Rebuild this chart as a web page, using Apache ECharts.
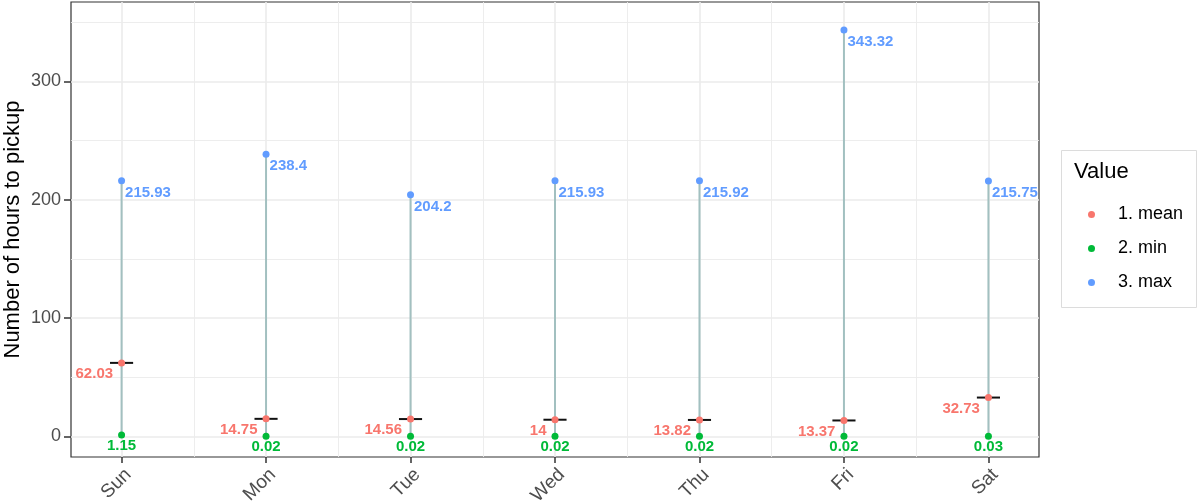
<!DOCTYPE html>
<html>
<head>
<meta charset="utf-8">
<script src="https://cdn.jsdelivr.net/npm/echarts@6/dist/echarts.min.js"></script>
<style>
html,body{margin:0;padding:0;background:#fff;}
#main{width:1200px;height:503px;}
</style>
</head>
<body>
<div id="main"></div>
<script>
// data
var days = ['Sun','Mon','Tue','Wed','Thu','Fri','Sat'];
var meanVals = [62.03, 14.75, 14.56, 14, 13.82, 13.37, 32.73];
var minVals = [1.15, 0.02, 0.02, 0.02, 0.02, 0.02, 0.03];
var maxVals = [215.93, 238.4, 204.2, 215.93, 215.92, 343.32, 215.75];
var yTicks = [0, 100, 200, 300];
var yMinor = [50, 150, 250, 350];

var FONT = '"Liberation Sans", Arial, Helvetica, sans-serif';
var RED = '#F8766D', GREEN = '#00BA38', BLUE = '#619CFF';

var chart = echarts.init(document.getElementById('main'));

function pts(vals){
    return vals.map(function(v, i){ return [i, v]; });
}

// grid lines (major at days, minor between them)
var gridLines = [];
yTicks.forEach(function(v){ gridLines.push({yAxis: v, lineStyle:{width:1.6}}); });
yMinor.forEach(function(v){ gridLines.push({yAxis: v, lineStyle:{width:0.9}}); });
days.forEach(function(d, i){
    gridLines.push({xAxis: i, lineStyle:{width:1.6}});
    if(i < days.length - 1) gridLines.push({xAxis: i + 0.5, lineStyle:{width:0.9}});
});

var segData = days.map(function(d, i){ return [i, minVals[i], maxVals[i]]; });

function labelOf(color, pos, offset, dist){
    return {
        show: true, position: pos, offset: offset, distance: dist,
        color: color, fontFamily: FONT, fontWeight: 'bold', fontSize: 15,
        formatter: function(p){ return String(p.value[1]); }
    };
}

chart.setOption({
    animation: false,
    grid: {left: 71, right: 161, top: 2, bottom: 46, show: true, borderColor: '#333', borderWidth: 1.2,
           backgroundColor: '#fff', containLabel: false, outerBoundsMode: 'none'},
    xAxis: {
        type: 'value', min: -0.35, max: 6.35,
        axisLine: {show: false, onZero: false},
        splitLine: {show: false},
        axisTick: {show: true, length: 6, customValues: [0,1,2,3,4,5,6], lineStyle: {color: '#333', width: 1.5}},
        axisLabel: {
            customValues: [0,1,2,3,4,5,6], rotate: 45, margin: 8, verticalAlign: 'top',
            color: '#4D4D4D', fontSize: 19, fontFamily: FONT,
            formatter: function(v){ return days[Math.round(v)]; }
        }
    },
    yAxis: {
        type: 'value', min: -17.5, max: 367,
        name: 'Number of hours to pickup', nameLocation: 'middle', nameGap: 47, nameMoveOverlap: false,
        nameTextStyle: {color: '#000', fontSize: 22, fontFamily: FONT},
        axisLine: {show: false, onZero: false},
        splitLine: {show: false},
        axisTick: {show: true, length: 7, customValues: yTicks, lineStyle: {color: '#333', width: 1.5}},
        axisLabel: {customValues: yTicks, margin: 10, color: '#4D4D4D', fontSize: 18, fontFamily: FONT}
    },
    legend: {
        orient: 'vertical', left: 1083, top: 200,
        data: ['1. mean', '2. min', '3. max'],
        icon: 'circle', itemWidth: 7, itemHeight: 7, itemGap: 15,
        textStyle: {color: '#000', fontSize: 18, fontFamily: FONT, lineHeight: 19, padding: [0,0,0,18]},
        selectedMode: false
    },
    graphic: [
        {type: 'rect', left: 1061, top: 150, z: -1, shape: {width: 135, height: 157},
         style: {fill: '#fff', stroke: '#dcdcdc', lineWidth: 1}},
        {type: 'text', left: 1074, top: 161, style: {text: 'Value', fill: '#000', fontSize: 22, fontFamily: FONT}}
    ],
    series: [
        {
            type: 'scatter', data: [], z: 0, silent: true,
            markLine: {silent: true, z: 0, symbol: 'none', label: {show: false}, animation: false,
                lineStyle: {color: '#EBEBEB', type: 'solid'}, data: gridLines}
        },
        {
            type: 'custom', name: 'range', z: 2, data: segData,
            renderItem: function(params, api){
                var a = api.coord([api.value(0), api.value(1)]);
                var b = api.coord([api.value(0), api.value(2)]);
                return {type: 'line', shape: {x1: a[0], y1: a[1], x2: b[0], y2: b[1]},
                        style: {stroke: '#A2C0C0', lineWidth: 2}};
            }
        },
        {
            type: 'custom', name: 'bar', z: 3, data: pts(meanVals),
            renderItem: function(params, api){
                var c = api.coord([api.value(0), api.value(1)]);
                var w = api.size([0.16, 0])[0];
                return {type: 'line', shape: {x1: c[0] - w/2, y1: c[1], x2: c[0] + w/2, y2: c[1]},
                        style: {stroke: '#111', lineWidth: 2}};
            }
        },
        {
            type: 'scatter', name: '1. mean', z: 4, symbolSize: 7, itemStyle: {color: RED, opacity: 1},
            data: pts(meanVals), label: labelOf(RED, 'left', [0, 11], 5)
        },
        {
            type: 'scatter', name: '2. min', z: 4, symbolSize: 7, itemStyle: {color: GREEN, opacity: 1},
            data: pts(minVals), label: labelOf(GREEN, 'inside', [0, 11], 0)
        },
        {
            type: 'scatter', name: '3. max', z: 4, symbolSize: 7, itemStyle: {color: BLUE, opacity: 1},
            data: pts(maxVals), label: labelOf(BLUE, 'right', [0, 12], 0)
        }
    ]
});
</script>
</body>
</html>
